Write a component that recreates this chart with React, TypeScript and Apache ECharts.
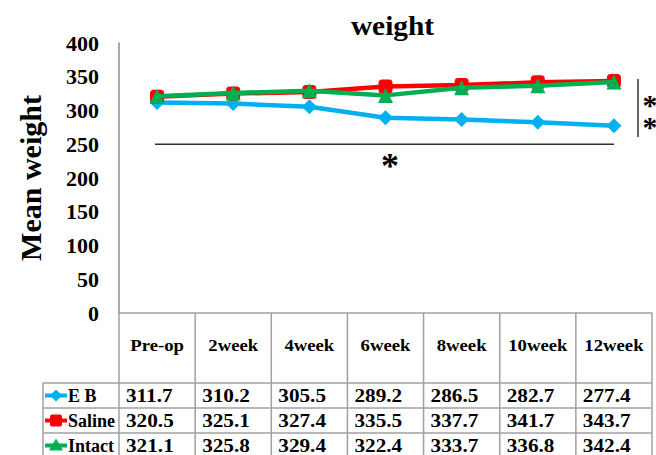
import React, { useEffect, useRef } from "react";
import * as echarts from "echarts";

const categories = ["Pre-op", "2week", "4week", "6week", "8week", "10week", "12week"];
const ebValues = [311.7, 310.2, 305.5, 289.2, 286.5, 282.7, 277.4];
const salineValues = [320.5, 325.1, 327.4, 335.5, 337.7, 341.7, 343.7];
const intactValues = [321.1, 325.8, 329.4, 322.4, 333.7, 336.8, 342.4];
const seriesNames = ["EB", "Saline", "Intact"];
const seriesColors = ["#00B0F0", "#FF0000", "#00B050"];
const yMin = 0;
const yMax = 400;
const yInterval = 50;
const sigLevel = 250;

const FONT = "'Liberation Serif', 'Times New Roman', serif";
const W = 656;
const H = 455;

export default function App() {
  const ref = useRef<HTMLDivElement>(null);

  useEffect(() => {
    if (!ref.current) return;
    const chart = echarts.init(ref.current, null, { renderer: "svg", width: W, height: H });
    const allValues = [ebValues, salineValues, intactValues];
    const symbols = ["diamond", "roundRect", "triangle"];
    const symbolSizes = [15, 14, 15];

    const grid = { left: 119, right: 4, top: 43, bottom: 142 };
    chart.setOption({
      animation: false,
      grid,
      xAxis: {
        type: "category",
        data: categories,
        boundaryGap: true,
        axisLine: { show: true, lineStyle: { color: "#a0a0a0", width: 1.5 } },
        axisTick: { show: false },
        axisLabel: { show: false },
        splitLine: { show: false },
      },
      yAxis: {
        type: "value",
        min: yMin,
        max: yMax,
        interval: yInterval,
        axisLine: { show: true, lineStyle: { color: "#8c8c8c", width: 1.5 } },
        axisTick: { show: false },
        splitLine: { show: false },
        axisLabel: {
          margin: 20,
          color: "#000",
          fontFamily: FONT,
          fontWeight: "bold",
          fontSize: 22,
        },
      },
      series: allValues.map((vals, i) => ({
        name: seriesNames[i],
        type: "line",
        data: vals,
        symbol: symbols[i],
        symbolSize: symbolSizes[i],
        lineStyle: { color: seriesColors[i], width: 4.5 },
        itemStyle: { color: seriesColors[i] },
        z: 2 + i,
      })),
    });

    const x0 = chart.convertToPixel({ xAxisIndex: 0 }, 0) as number;
    const x1 = chart.convertToPixel({ xAxisIndex: 0 }, 1) as number;
    const band = x1 - x0;
    const left = x0 - band / 2;
    const right = left + band * categories.length;
    const bottomY = chart.convertToPixel({ yAxisIndex: 0 }, yMin) as number;
    const sigY = chart.convertToPixel({ yAxisIndex: 0 }, sigLevel) as number;
    const topY = chart.convertToPixel({ yAxisIndex: 0 }, yMax) as number;

    const headerBottom = bottomY + 70;
    const rowH = 25;
    const legendLeft = 43;
    const gridColor = "#a0a0a0";
    const els: any[] = [];

    els.push({
      type: "text",
      x: (left + right) / 2 + 7,
      y: 25,
      scaleX: 1.05,
      style: {
        text: "weight",
        font: `bold 28px ${FONT}`,
        fill: "#000",
        textAlign: "center",
        textVerticalAlign: "middle",
      },
    });
    els.push({
      type: "text",
      x: 30,
      y: (topY + bottomY) / 2,
      rotation: Math.PI / 2,
      style: {
        text: "Mean weight",
        font: `bold 30px ${FONT}`,
        fill: "#000",
        textAlign: "center",
        textVerticalAlign: "middle",
      },
    });

    for (let i = 0; i <= categories.length; i++) {
      const x = left + band * i;
      els.push({
        type: "line",
        shape: { x1: x, y1: bottomY, x2: x, y2: H },
        style: { stroke: gridColor, lineWidth: 1.5 },
      });
    }
    els.push({
      type: "line",
      shape: { x1: legendLeft, y1: headerBottom, x2: legendLeft, y2: H },
      style: { stroke: gridColor, lineWidth: 1.5 },
    });
    for (let r = 0; r < 3; r++) {
      const y = headerBottom + rowH * r;
      els.push({
        type: "line",
        shape: { x1: legendLeft, y1: y, x2: right, y2: y },
        style: { stroke: gridColor, lineWidth: 1.5 },
      });
    }

    categories.forEach((c, i) => {
      els.push({
        type: "text",
        x: left + band * (i + 0.5),
        y: (bottomY + headerBottom) / 2 - 3,
        scaleX: 1.1,
        style: {
          text: c,
          font: `bold 17px ${FONT}`,
          fill: "#000",
          textAlign: "center",
          textVerticalAlign: "middle",
        },
      });
    });

    allValues.forEach((vals, r) => {
      const cy = headerBottom + rowH * r + rowH / 2;
      const col = seriesColors[r];
      els.push({
        type: "line",
        shape: { x1: legendLeft + 2, y1: cy, x2: legendLeft + 24, y2: cy },
        style: { stroke: col, lineWidth: 4 },
      });
      const mx = legendLeft + 13;
      if (r === 0) {
        els.push({
          type: "polygon",
          shape: { points: [[mx, cy - 6], [mx + 6, cy], [mx, cy + 6], [mx - 6, cy]] },
          style: { fill: col },
        });
      } else if (r === 1) {
        els.push({
          type: "rect",
          shape: { x: mx - 6, y: cy - 6, width: 12, height: 12, r: 2 },
          style: { fill: col },
        });
      } else {
        els.push({
          type: "polygon",
          shape: { points: [[mx, cy - 7], [mx + 7, cy + 5], [mx - 7, cy + 5]] },
          style: { fill: col },
        });
      }
      els.push({
        type: "text",
        x: legendLeft + 25,
        y: cy,
        style: {
          text: seriesNames[r] === "EB" ? "E B" : seriesNames[r],
          font: `bold 18px ${FONT}`,
          fill: "#000",
          textAlign: "left",
          textVerticalAlign: "middle",
        },
      });
      vals.forEach((v, i) => {
        els.push({
          type: "text",
          x: left + band * i + 7,
          y: cy,
          scaleX: 1.18,
          style: {
            text: v.toFixed(1),
            font: `bold 18px ${FONT}`,
            fill: "#000",
            textAlign: "left",
            textVerticalAlign: "middle",
          },
        });
      });
    });

    els.push({
      type: "line",
      shape: { x1: left + 36, y1: sigY, x2: right - 38, y2: sigY },
      style: { stroke: "#333", lineWidth: 1.5 },
    });
    els.push({
      type: "text",
      x: 390,
      y: sigY + 22,
      style: {
        text: "*",
        font: `bold 36px ${FONT}`,
        fill: "#000",
        textAlign: "center",
        textVerticalAlign: "middle",
      },
    });
    els.push({
      type: "line",
      shape: { x1: 638, y1: 79, x2: 638, y2: 137 },
      style: { stroke: "#333", lineWidth: 1.5 },
    });
    [105, 127].forEach((yy) => {
      els.push({
        type: "text",
        x: 650,
        y: yy,
        scaleX: 1.35,
        scaleY: 1.35,
        style: {
          text: "*",
          font: `bold 22px ${FONT}`,
          fill: "#000",
          textAlign: "center",
          textVerticalAlign: "middle",
        },
      });
    });

    chart.setOption({ graphic: { elements: els } });

    return () => chart.dispose();
  }, []);

  return (
    <div
      ref={ref}
      style={{ position: "fixed", left: 0, top: 0, width: W, height: H, background: "#fff" }}
    />
  );
}
